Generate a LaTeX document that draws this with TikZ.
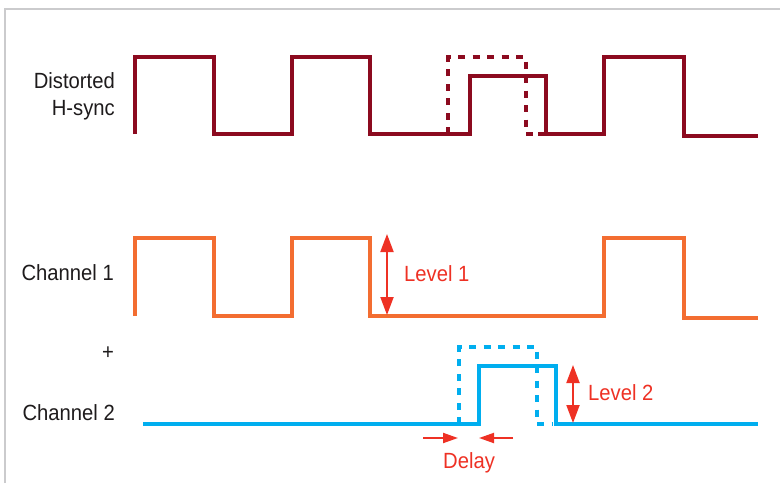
\documentclass[tikz,border=0pt]{standalone}
\usepackage{fontspec}
\setmainfont{Liberation Sans}[FakeStretch=0.92]
\usepackage{xcolor}
\usetikzlibrary{arrows.meta,positioning}
\definecolor{hsyncred}{HTML}{8C0A1F}
\definecolor{chonecol}{HTML}{F36D31}
\definecolor{chtwocol}{HTML}{00AEEF}
\definecolor{markred}{HTML}{EE3124}
\definecolor{labelgray}{HTML}{1E1B1C}
\definecolor{framegray}{HTML}{CBCBCD}

\begin{document}
\begin{tikzpicture}[x=1pt,y=-1pt,
  wave/.style={line width=3.2pt},
  ghost/.style={line width=3.2pt,dash pattern=on 7pt off 7.5pt},
  lbl/.style={font=\fontsize{22}{26.7}\selectfont,text=labelgray,inner sep=0pt},
  redlbl/.style={font=\fontsize{22}{26.7}\selectfont,text=markred,inner sep=0pt},
  tip/.style={markred,line width=2pt,-{Triangle[length=15pt,width=10pt]}},
  tipboth/.style={markred,line width=2pt,{Triangle[length=18pt,width=13pt]}-{Triangle[length=18pt,width=13pt]}}]
  \useasboundingbox (0,0) rectangle (780,483);
  \draw[framegray,line width=2.4pt] (5,483) -- (5,9) -- (780,9);

  % distorted h-sync
  \draw[wave,hsyncred] (135,134) -- (135,57) -- (214,57) -- (214,134) -- (292,134)
    -- (292,57) -- (370,57) -- (370,134) -- (470,134) -- (470,76) -- (546,76)
    -- (546,134) -- (604,134) -- (604,57) -- (684,57) -- (684,136) -- (758,136);
  \draw[wave,hsyncred] (538,134) -- (546,134);
  \draw[ghost,hsyncred] (448,134) -- (448,57) -- (526,57) -- (526,134) -- (536,134);

  % channel 1
  \draw[wave,chonecol] (135,316) -- (135,238) -- (214,238) -- (214,316) -- (292,316)
    -- (292,238) -- (370,238) -- (370,316) -- (604,316) -- (604,238) -- (684,238)
    -- (684,318) -- (758,318);

  % channel 2
  \draw[wave,chtwocol] (143,424) -- (479,424) -- (479,366) -- (556,366) -- (556,424)
    -- (758,424);
  \draw[ghost,chtwocol] (459,424) -- (459,347) -- (537,347) -- (537,424) -- (552,424);

  \node[lbl,align=right,anchor=east] (hsync) at (115,96) {Distorted\\H-sync};
  \node[lbl,anchor=base east] (chone) at (114,280) {Channel 1};
  \node[lbl,anchor=center] (plus) at (108,353) {+};
  \node[lbl,anchor=base east] (chtwo) at (115,420.5) {Channel 2};

  \coordinate (lvlonetop) at (387,234);
  \coordinate (lvlonebot) at (387,315);
  \draw[tipboth] (lvlonetop) -- (lvlonebot);
  \node[redlbl,anchor=base west] (lvlone) at (404,281) {Level 1};

  \coordinate (lvltwotop) at (573,365);
  \coordinate (lvltwobot) at (573,423);
  \draw[tipboth] (lvltwotop) -- (lvltwobot);
  \node[redlbl,anchor=base west] (lvltwo) at (588,400.7) {Level 2};

  \coordinate (dlyleft) at (423,438);
  \coordinate (dlyleftend) at (458,438);
  \coordinate (dlyright) at (513,438);
  \coordinate (dlyrightend) at (479,438);
  \draw[tip] (dlyleft) -- (dlyleftend);
  \draw[tip] (dlyright) -- (dlyrightend);
  \node[redlbl,anchor=base west] (delay) at (443,468.3) {Delay};
\end{tikzpicture}
\end{document}
